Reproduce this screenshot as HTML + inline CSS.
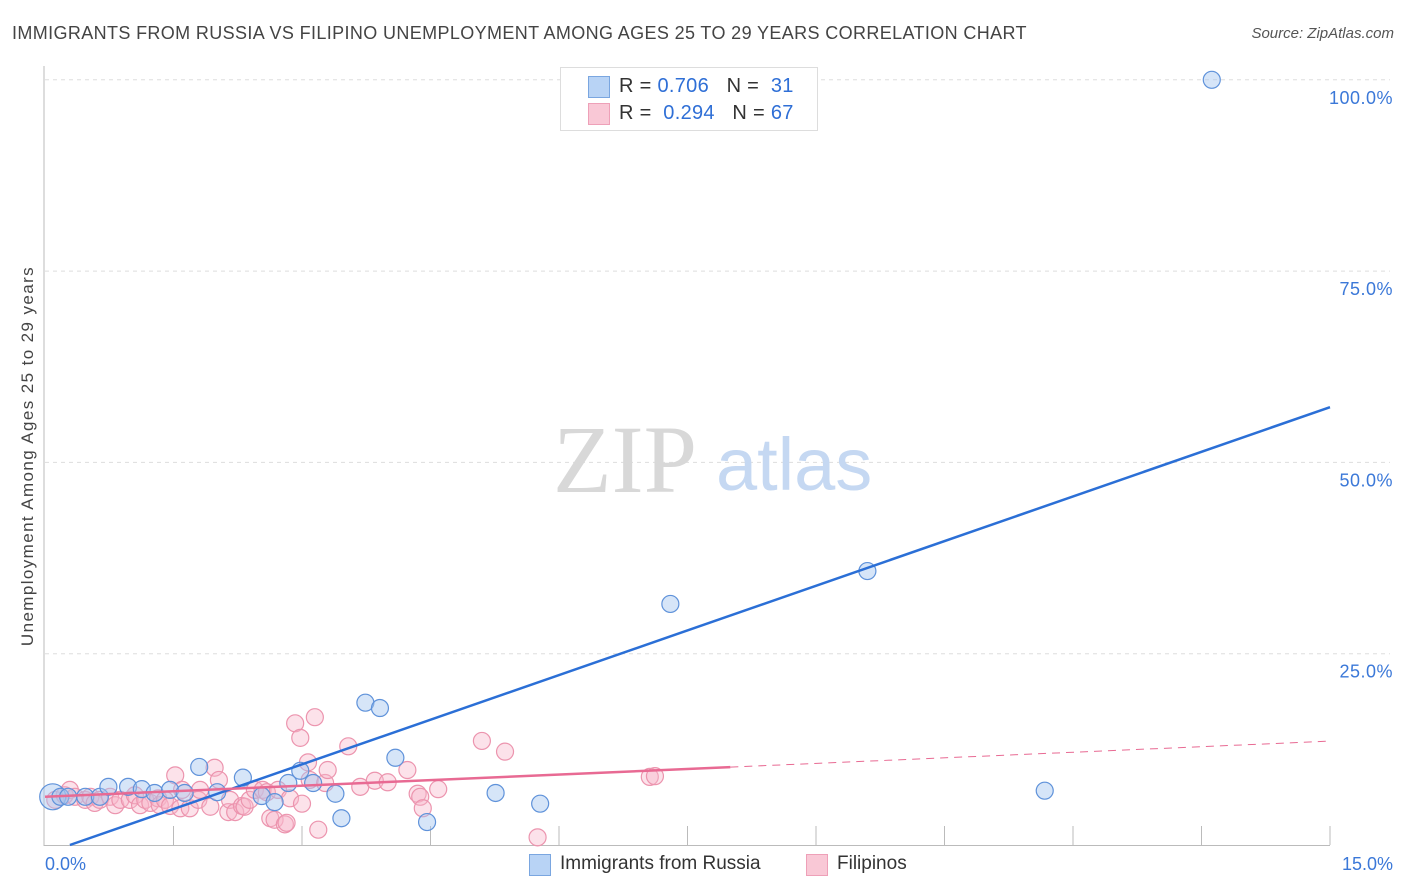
<!DOCTYPE html>
<html><head><meta charset="utf-8">
<style>
body{margin:0;background:#fff;font-family:"Liberation Sans",sans-serif;}
#wrap{position:relative;width:1406px;height:892px;overflow:hidden;}
.t{position:absolute;white-space:nowrap;}
</style></head>
<body>
<div id="wrap">
<div class="t" style="left:12px;top:23px;font-size:18px;letter-spacing:0.37px;color:#444;">IMMIGRANTS FROM RUSSIA VS FILIPINO UNEMPLOYMENT AMONG AGES 25 TO 29 YEARS CORRELATION CHART</div>
<div class="t" style="right:12px;top:25px;font-size:15px;color:#555;font-style:italic;">Source: ZipAtlas.com</div>
<div class="t" style="left:28px;top:456px;font-size:17px;letter-spacing:1.4px;color:#444;transform:translate(-50%,-50%) rotate(-90deg);">Unemployment Among Ages 25 to 29 years</div>
<svg id="chart" width="1406" height="892" style="position:absolute;left:0;top:0"></svg>
<div style="position:absolute;left:560px;top:67px;width:256px;height:62px;border:1px solid #ddd;background:#fff;font-size:20px;">
 <div style="position:absolute;left:27px;top:8px;width:20px;height:20px;background:#b8d3f5;border:1px solid #7aa6e0;"></div>
 <div class="t" style="left:58px;top:7px;color:#333;letter-spacing:0.3px;">R = <span style="color:#2f6fd6">0.706</span>&nbsp;&nbsp;&nbsp;N = &nbsp;<span style="color:#2f6fd6">31</span></div>
 <div style="position:absolute;left:27px;top:35px;width:20px;height:20px;background:#f9c8d6;border:1px solid #eea0b8;"></div>
 <div class="t" style="left:58px;top:34px;color:#333;letter-spacing:0.3px;">R = &nbsp;<span style="color:#2f6fd6">0.294</span>&nbsp;&nbsp;&nbsp;N = <span style="color:#2f6fd6">67</span></div>
</div>
<div>
 <div style="position:absolute;left:529px;top:854px;width:20px;height:20px;background:#b8d3f5;border:1px solid #7aa6e0;"></div>
 <div class="t" style="left:560px;top:853px;font-size:19px;color:#333;">Immigrants from Russia</div>
 <div style="position:absolute;left:806px;top:854px;width:20px;height:20px;background:#f9c8d6;border:1px solid #eea0b8;"></div>
 <div class="t" style="left:837px;top:853px;font-size:19px;color:#333;">Filipinos</div>
</div>
</div>
<script>
const yTicks=[100,75,50,25];
const yTickLabels=["100.0%","75.0%","50.0%","25.0%"];
const xTickLabels=["0.0%","15.0%"];
const russiaX=[0.09,0.18,0.27,0.47,0.64,0.74,0.97,1.13,1.28,1.46,1.63,1.80,2.01,2.31,2.53,2.68,2.84,2.98,3.13,3.39,3.46,3.74,3.91,4.09,4.46,5.26,5.78,7.30,9.60,11.67,13.62];
const russiaY=[6.3,6.3,6.3,6.3,6.3,7.6,7.6,7.3,6.8,7.2,6.8,10.2,6.9,8.8,6.4,5.6,8.1,9.7,8.1,6.7,3.5,18.6,17.9,11.4,3.0,6.8,5.4,31.5,35.8,7.1,100];
const filX=[0.12,0.23,0.29,0.35,0.47,0.53,0.58,0.64,0.76,0.82,0.88,0.99,1.05,1.11,1.17,1.23,1.32,1.34,1.40,1.46,1.52,1.58,1.60,1.69,1.79,1.81,1.93,1.98,2.03,2.14,2.16,2.22,2.30,2.33,2.39,2.45,2.54,2.59,2.63,2.68,2.72,2.80,2.82,2.86,2.92,2.98,3.00,3.07,3.09,3.15,3.19,3.27,3.30,3.54,3.68,3.85,4.00,4.23,4.35,4.38,4.41,4.59,5.10,5.37,5.75,7.06,7.12];
const filY=[5.9,6.5,7.2,6.3,5.9,6.3,5.5,5.9,6.3,5.2,5.9,5.9,6.5,5.2,5.9,5.5,6.1,5.2,5.9,5.1,9.1,4.8,7.2,4.8,5.9,7.2,5.0,10.1,8.5,4.3,5.9,4.3,5.1,5.0,5.9,7.2,7.2,6.9,3.5,3.3,7.2,2.7,2.9,6.1,15.9,14.0,5.4,10.8,8.5,16.7,2.0,8.1,9.8,12.9,7.6,8.4,8.2,9.8,6.7,6.3,4.8,7.3,13.6,12.2,1.0,8.9,9.0];
const russiaTrend=[-1.13,3.89]; // intercept, slope
const filTrend=[6.3,0.485];
const filSolidEnd=8.0;

const X=v=>45+v/15*1285;
const Y=v=>845-v*7.652;
const svg=document.getElementById('chart');
const NS='http://www.w3.org/2000/svg';
function mk(tag,attrs){const e=document.createElementNS(NS,tag);for(const k in attrs)e.setAttribute(k,attrs[k]);svg.appendChild(e);return e;}

yTicks.forEach((t,i)=>{
 const g=mk('line',{x1:45,x2:1390,y1:Y(t),y2:Y(t),stroke:'#ddd','stroke-dasharray':'4,4'});
 
 
 const tx=mk('text',{x:1393,y:Y(t)+24,'text-anchor':'end','font-size':18,'letter-spacing':0.5,fill:'#3b78d8','font-family':'Liberation Sans, sans-serif'});
 tx.textContent=yTickLabels[i];
 
 
});
const ax=mk('line',{x1:44,x2:44,y1:66,y2:846,stroke:'#bbb'});


const bx=mk('line',{x1:44,x2:1330,y1:845.5,y2:845.5,stroke:'#bbb'});


for(let i=1;i<=10;i++){
 const tk=mk('line',{x1:X(i*1.5),x2:X(i*1.5),y1:826,y2:845,stroke:'#bbb'});
 
 
}
[[0,'start',45],[15,'end',1393]].forEach((d,i)=>{
 const tx=mk('text',{x:d[2],y:870,'text-anchor':d[1],'font-size':18,fill:'#3b78d8','font-family':'Liberation Sans, sans-serif'});
 tx.textContent=xTickLabels[i];
 
 
});
const w1=mk('text',{x:553,y:492,'font-size':96,fill:'#d8d8d8','font-family':'Liberation Serif, serif'});
w1.textContent='ZIP';


const w2=mk('text',{x:716,y:490,'font-size':74,fill:'#c5d8f2','font-family':'Liberation Sans, sans-serif'});
w2.textContent='atlas';



filX.forEach((x,i)=>{
 const c=mk('circle',{cx:X(x),cy:Y(filY[i]),r:8.5,fill:'rgba(248,182,202,0.4)',stroke:'#ec94ae','stroke-width':1.2});
 
 
});
russiaX.forEach((x,i)=>{
 const c=mk('circle',{cx:X(x),cy:Y(russiaY[i]),r:i===0?13:8.5,fill:'rgba(164,198,240,0.45)',stroke:'#5f92da','stroke-width':1.2});
 
 
});
const x0=-russiaTrend[0]/russiaTrend[1];
const rl=mk('line',{x1:X(x0),y1:Y(0),x2:X(15),y2:Y(russiaTrend[0]+russiaTrend[1]*15),stroke:'#2b6fd6','stroke-width':2.5});


const fl=mk('line',{x1:X(0),y1:Y(filTrend[0]),x2:X(filSolidEnd),y2:Y(filTrend[0]+filTrend[1]*filSolidEnd),stroke:'#e86a93','stroke-width':2.5});


const fd=mk('line',{x1:X(filSolidEnd),y1:Y(filTrend[0]+filTrend[1]*filSolidEnd),x2:X(15),y2:Y(filTrend[0]+filTrend[1]*15),stroke:'#e86a93','stroke-width':1,'stroke-dasharray':'8,6'});


</script>
</body></html>
